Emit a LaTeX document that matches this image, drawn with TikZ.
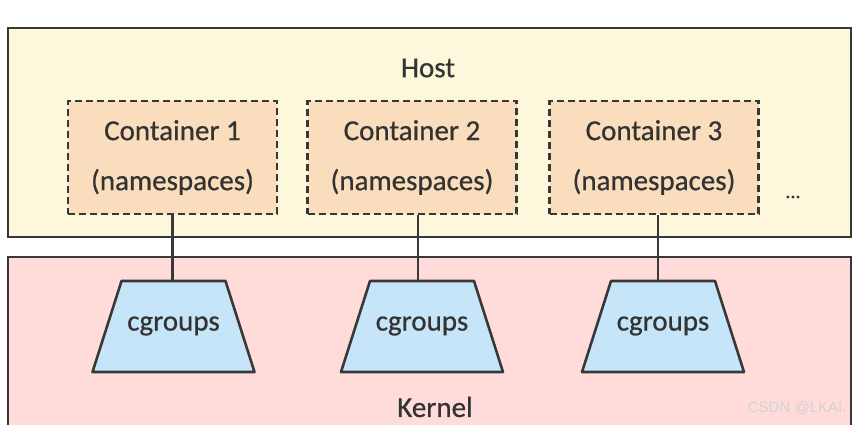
\documentclass[tikz,border=0pt]{standalone}
\usepackage{fontspec}
\setmainfont{Carlito}[FakeBold=0.6]
\newfontfamily\wmfont{Liberation Sans}
\definecolor{hostfill}{HTML}{FDF8DC}
\definecolor{kernfill}{HTML}{FFDCDA}
\definecolor{contfill}{HTML}{FADDBC}
\definecolor{cgfill}{HTML}{C6E5F8}
\definecolor{edgecol}{HTML}{383838}
\definecolor{txtcol}{HTML}{333333}
\begin{document}
\begin{tikzpicture}[x=1pt,y=-1pt,
  layer box/.style={rectangle,draw=edgecol,line width=2.8pt,minimum width=843pt,inner sep=0pt},
  cont node/.style={rectangle,draw=edgecol,fill=contfill,dashed,dash pattern=on 7pt off 4pt,line width=2.5pt,
    minimum width=209pt,minimum height=113pt,align=center,font=\fontsize{29}{50}\selectfont,text=txtcol},
  cg shape/.style={draw=edgecol,fill=cgfill,line width=2.6pt,line join=round},
  cg node/.style={rectangle,minimum width=104pt,minimum height=91pt,inner sep=0pt,
    font=\fontsize{29}{32}\selectfont,text=txtcol},
  label node/.style={font=\fontsize{29}{32}\selectfont,text=txtcol}]

  \useasboundingbox (0,0) rectangle (852,424);
  \fill[white] (0,0) rectangle (852,424);

  \node[layer box,fill=hostfill,minimum height=209pt] (host) at (429.5,132.5) {};
  \node[layer box,fill=kernfill,minimum height=200pt] (kernel) at (429.5,357) {};

  \node[label node] (hostlbl) at (428,68) {Host};
  \node[label node] (kernlbl) at (435,407) {Kernel};

  \node[cont node] (c1) at (172.5,157.5) {Container 1\\(namespaces)};
  \node[cont node] (c2) at (412,157.5) {Container 2\\(namespaces)};
  \node[cont node] (c3) at (654,157.5) {Container 3\\(namespaces)};
  \node[font=\fontsize{20}{22}\selectfont,text=txtcol] (dots) at (793,197) {...};

  \foreach \i/\x in {1/173.5,2/422,3/663}{
    \filldraw[cg shape] (\x-52,281) -- (\x+52,281) -- (\x+81,372) -- (\x-81,372) -- cycle;
    \node[cg node] (g\i) at (\x,326.5) {\raisebox{6pt}{cgroups}};
  }

  \draw[edgecol,line width=2.6pt] (c1.south) -- (c1.south |- g1.north);
  \draw[edgecol,line width=2.6pt] ([xshift=6pt]c2.south) -- ([xshift=6pt]c2.south |- g2.north);
  \draw[edgecol,line width=2.6pt] ([xshift=4pt]c3.south) -- ([xshift=4pt]c3.south |- g3.north);

  \node[font=\wmfont\fontsize{15}{17}\selectfont,text=white!65!gray,anchor=east] (wm) at (850,408) {CSDN @LKAI.};
\end{tikzpicture}
\end{document}
